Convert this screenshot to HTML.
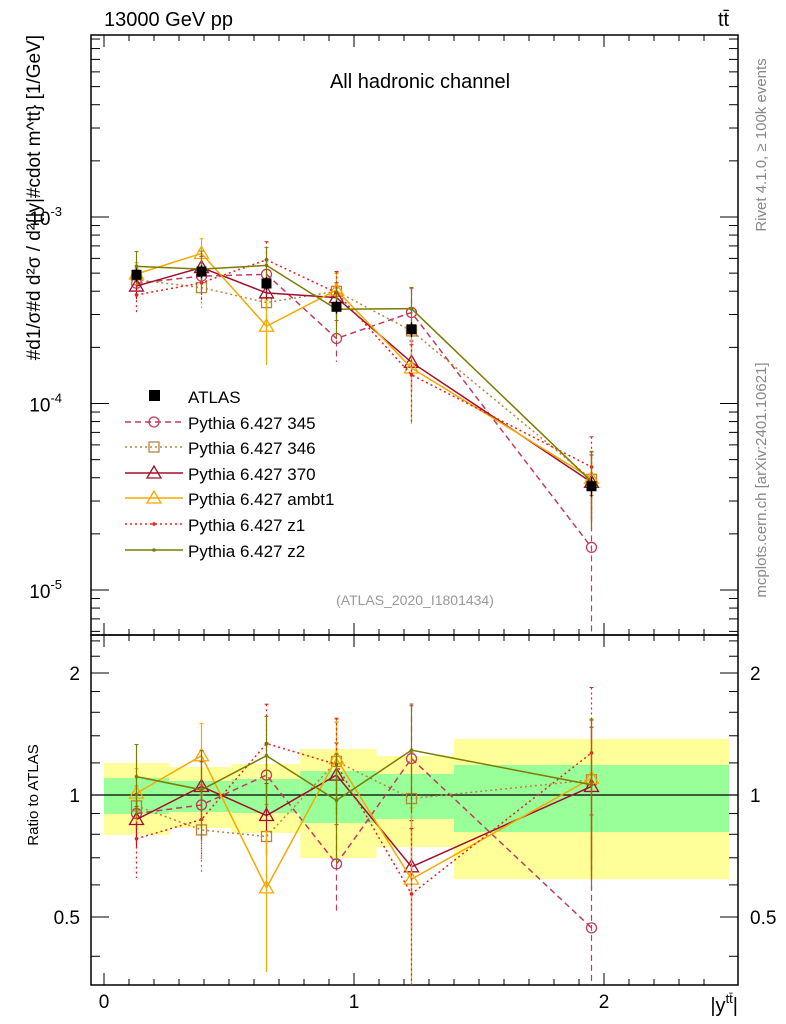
<!DOCTYPE html>
<html><head><meta charset="utf-8"><style>
body{margin:0;background:#fff;}
svg{display:block;font-family:"Liberation Sans",sans-serif;}
</style></head><body>
<svg id="c" width="786" height="1024" xmlns="http://www.w3.org/2000/svg"></svg>
<script>
const xPts=[0.13,0.39,0.65,0.93,1.23,1.95];
const dataVals=[4.9e-4,5.1e-4,4.4e-4,3.3e-4,2.5e-4,3.6e-5];
const dataErr=[0.08,0.08,0.08,0.08,0.09,0.12];
const binEdges=[0,0.26,0.51,0.785,1.09,1.4,2.5];
const bandYelLo=[0.797,0.829,0.806,0.699,0.744,0.620];
const bandYelHi=[1.199,1.172,1.192,1.298,1.248,1.374];
const bandGrnLo=[0.898,0.908,0.903,0.853,0.873,0.810];
const bandGrnHi=[1.101,1.083,1.095,1.146,1.127,1.186];
const seriesNames=["Pythia 6.427 345","Pythia 6.427 346","Pythia 6.427 370","Pythia 6.427 ambt1","Pythia 6.427 z1","Pythia 6.427 z2"];
const r345=[0.90,0.945,1.12,0.676,1.23,0.47];
const r346=[0.94,0.82,0.79,1.21,0.98,1.09];
const r370=[0.87,1.05,0.89,1.12,0.665,1.05];
const rAmbt1=[1.01,1.25,0.59,1.23,0.62,1.10];
const rZ1=[0.78,0.87,1.34,1.19,0.57,1.27];
const rZ2=[1.11,1.03,1.25,0.97,1.29,1.06];
const e345=[0.12,0.12,0.2,0.25,0.35,0.9];
const e346=[0.12,0.22,0.2,0.25,0.3,0.4];
const e370=[0.15,0.15,0.2,0.2,0.3,0.4];
const eAmbt1=[0.15,0.2,0.38,0.25,0.5,0.4];
const eZ1=[0.2,0.2,0.25,0.3,0.45,0.45];
const eZ2=[0.2,0.25,0.25,0.3,0.3,0.45];
const ratios=[r345,r346,r370,rAmbt1,rZ1,rZ2];
const errs=[e345,e346,e370,eAmbt1,eZ1,eZ2];
const colors=["#c03c5e","#b8843c","#a0102c","#f5a800","#e82018","#7c7c00"];
const dashes=["6,4","2,3","","","2,3",""];
const markers=["circle","square","triangle","triangle","dot","dot"];

const svg=document.getElementById('c');
const NS="http://www.w3.org/2000/svg";
const L=91,R=738,T=35,M=635,B=985;
const X=v=>104+v*250;
const Ym=v=>217-(Math.log10(v)+3)*186.5;
const Yr=v=>795-Math.log2(v)*122;
function el(t,a,p){const e=document.createElementNS(NS,t);for(const k in a)e.setAttribute(k,a[k]);(p||svg).appendChild(e);return e;}
function txt(s,a,p){const e=el('text',a,p);e.textContent=s;return e;}

// ratio bands
const gb=el('g',{});
for(let i=0;i<6;i++){
 const x1=X(binEdges[i]),x2=X(binEdges[i+1]);
 const y=el('rect',{x:x1,y:Yr(bandYelHi[i]),width:x2-x1,height:Yr(bandYelLo[i])-Yr(bandYelHi[i]),fill:'#ffff99'},gb);
 
 const g=el('rect',{x:x1,y:Yr(bandGrnHi[i]),width:x2-x1,height:Yr(bandGrnLo[i])-Yr(bandGrnHi[i]),fill:'#99ff99'},gb);
 
}
el('line',{x1:L,x2:R,y1:Yr(1),y2:Yr(1),stroke:'#000','stroke-width':1.3});

// frames
el('rect',{x:L,y:T,width:R-L,height:M-T,fill:'none',stroke:'#000','stroke-width':1.5});
el('rect',{x:L,y:M,width:R-L,height:B-M,fill:'none',stroke:'#000','stroke-width':1.5});

// x ticks
for(let v=0;v<=2.5;v+=0.1){const x=X(v),maj=Math.abs(v-Math.round(v))<1e-6;const len=maj?12:6;
 for(const [y0,y1] of [[M,M-len],[T,T+len],[B,B-len],[M,M+len]]) el('line',{x1:x,x2:x,y1:y0,y2:y1,stroke:'#000'});}
[0,1,2].forEach(v=>{const t=txt(String(v),{x:X(v),y:1008,'font-size':19,'text-anchor':'middle'});});
// main y ticks
for(let d=-6;d<=-2;d++)for(let m=1;m<10;m++){const v=m*Math.pow(10,d);const y=Ym(v);if(y<T||y>M)continue;const len=m==1?18:9;
 el('line',{x1:L,x2:L+len,y1:y,y2:y,stroke:'#000'});el('line',{x1:R,x2:R-len,y1:y,y2:y,stroke:'#000'});}
[-3,-4,-5].forEach(d=>{const t=el('text',{x:62,y:Ym(Math.pow(10,d))+8,'font-size':19,'text-anchor':'end'});t.innerHTML='10<tspan dy="-9" font-size="13">'+d+'</tspan>';});
// ratio y ticks
[0.4,0.5,0.6,0.7,0.8,0.9,1,1.2,1.4,1.6,1.8,2,2.2,2.4].forEach(v=>{const y=Yr(v);const maj=(v==0.5||v==1||v==2);const len=maj?18:9;
 el('line',{x1:L,x2:L+len,y1:y,y2:y,stroke:'#000'});el('line',{x1:R,x2:R-len,y1:y,y2:y,stroke:'#000'});});
[[0.5,'0.5'],[1,'1'],[2,'2']].forEach(([v,s])=>{
 let t=txt(s,{x:80,y:Yr(v)+7,'font-size':19,'text-anchor':'end'});
 t=txt(s,{x:750,y:Yr(v)+7,'font-size':19});});

function marker(type,x,y,c,p){
 if(type=='circle')el('circle',{cx:x,cy:y,r:5,fill:'none',stroke:c,'stroke-width':1.3},p);
 else if(type=='square')el('rect',{x:x-5,y:y-5,width:10,height:10,fill:'none',stroke:c,'stroke-width':1.3},p);
 else if(type=='triangle')el('polygon',{points:`${x},${y-7} ${x-7},${y+5} ${x+7},${y+5}`,fill:'none',stroke:c,'stroke-width':1.3},p);
 else el('circle',{cx:x,cy:y,r:1.8,fill:c},p);
}
// series
ratios.forEach((r,s)=>{
 const g=el('g',{});
 const c=colors[s];const da=dashes[s]?{'stroke-dasharray':dashes[s]}:{};
 const pm=xPts.map((x,i)=>X(x)+','+Ym(dataVals[i]*r[i])).join(' ');
 const pr=xPts.map((x,i)=>X(x)+','+Yr(r[i])).join(' ');
 el('polyline',Object.assign({points:pm,fill:'none',stroke:c,'stroke-width':1.5},da),g);
 el('polyline',Object.assign({points:pr,fill:'none',stroke:c,'stroke-width':1.5},da),g);
 xPts.forEach((x,i)=>{const e=errs[s][i];
  for(const [Y,v] of [[Ym,dataVals[i]*r[i]],[Yr,r[i]]]){
   const y1=Y(v*(1+e)),y2=Y(Math.max(v*(1-e),v*0.05));
   el('line',Object.assign({x1:X(x),x2:X(x),y1:Math.max(y1,Y===Ym?T:M),y2:Math.min(y2,Y===Ym?M:B),stroke:c,'stroke-width':1.2},da),g);
   el('line',{x1:X(x)-2,x2:X(x)+2,y1:y1,y2:y1,stroke:c},g);
   marker(markers[s],X(x),Y(v),c,g);}
 });
});
// data
const gd=el('g',{});
xPts.forEach((x,i)=>{const v=dataVals[i],y=Ym(v);
 el('line',{x1:X(x),x2:X(x),y1:Ym(v*(1+dataErr[i])),y2:Ym(v*(1-dataErr[i])),stroke:'#000','stroke-width':1.3},gd);
 el('rect',{x:X(x)-5,y:y-5,width:10,height:10,fill:'#000'},gd);});

// legend
const lg=el('g',{});
const ly=[396,422,447,473,498,524,550];
el('rect',{x:149,y:ly[0]-6,width:11,height:11,fill:'#000'},lg);
txt('ATLAS',{x:188,y:ly[0]+7,'font-size':17},lg);
seriesNames.forEach((n,s)=>{const y=ly[s+1];const da=dashes[s]?{'stroke-dasharray':dashes[s]}:{};
 el('line',Object.assign({x1:125,x2:183,y1:y,y2:y,stroke:colors[s],'stroke-width':1.5},da),lg);
 marker(markers[s],154,y,colors[s],lg);
 const t=txt(n,{x:188,y:y+7,'font-size':17},lg);});

// texts
let t;
t=txt('13000 GeV pp',{x:104,y:26,'font-size':20});
t=txt('tt̄',{x:718,y:26,'font-size':20});
t=txt('All hadronic channel',{x:420,y:88,'font-size':20,'text-anchor':'middle'});
t=txt('(ATLAS_2020_I1801434)',{x:415,y:605,'font-size':14,fill:'#999','text-anchor':'middle'});
t=txt('Rivet 4.1.0, ≥ 100k events',{x:0,y:0,'font-size':15,fill:'#888','text-anchor':'middle',transform:'translate(766,145) rotate(-90)'});
t=txt('mcplots.cern.ch [arXiv:2401.10621]',{x:0,y:0,'font-size':15,fill:'#888','text-anchor':'middle',transform:'translate(766,480) rotate(-90)'});
t=txt('Ratio to ATLAS',{x:0,y:0,'font-size':15,'text-anchor':'middle',transform:'translate(38,795) rotate(-90)'});
t=txt('#d1/σ#d d²σ / d²{|y|#cdot m^tt} [1/GeV]',{x:0,y:0,'font-size':19,'text-anchor':'end',transform:'translate(40,35) rotate(-90)'});
t=el('text',{x:738,y:1012,'font-size':20,'text-anchor':'end'});t.innerHTML='|y<tspan dy="-9" font-size="13">tt̄</tspan><tspan dy="9">|</tspan>';
</script>
</body></html>
